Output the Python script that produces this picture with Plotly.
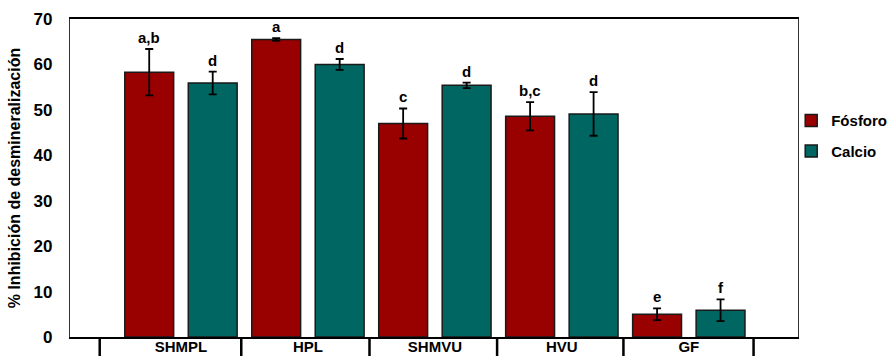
import plotly.graph_objects as go

categories = ["SHMPL", "HPL", "SHMVU", "HVU", "GF"]
fosforo = [58.3, 65.5, 47.0, 48.6, 5.0]
fosforo_err = [5.1, 0.3, 3.3, 3.1, 1.3]
calcio = [55.9, 60.0, 55.4, 49.1, 5.9]
calcio_err = [2.5, 1.2, 0.6, 4.8, 2.4]
fosforo_labels = ["a,b", "a", "c", "b,c", "e"]
calcio_labels = ["d", "d", "d", "d", "f"]
y_ticks = [0, 10, 20, 30, 40, 50, 60, 70]

FONT = "Liberation Sans, Arial, sans-serif"
RED = "#990000"
TEAL = "#006662"

fig = go.Figure()
fig.add_trace(go.Bar(
    name="Fósforo", x=categories, y=fosforo,
    marker=dict(color=RED, line=dict(color="#1a1a1a", width=1.5)),
    error_y=dict(type="data", array=fosforo_err, color="black", thickness=1.8, width=4),
    legendgroup="p",
))
fig.add_trace(go.Bar(
    name="Calcio", x=categories, y=calcio,
    marker=dict(color=TEAL, line=dict(color="#1a1a1a", width=1.5)),
    error_y=dict(type="data", array=calcio_err, color="black", thickness=1.8, width=4),
    legendgroup="c",
))

# significance letters
for i, c in enumerate(categories):
    for vals, errs, labs, off in [(fosforo, fosforo_err, fosforo_labels, -0.25),
                                   (calcio, calcio_err, calcio_labels, 0.25)]:
        fig.add_annotation(
            x=i + off, y=vals[i] + errs[i], text="<b>%s</b>" % labs[i],
            showarrow=False, yanchor="bottom", yshift=1,
            font=dict(family=FONT, size=15, color="black"), xref="x", yref="y",
        )

# category separators below the axis
for xs in [-0.64, 0.475, 1.485, 2.49, 3.485, 4.51]:
    fig.add_shape(type="line", xref="x", yref="paper", x0=xs, x1=xs, y0=0, y1=-0.07,
                  line=dict(color="black", width=2.5))

fig.update_layout(
    width=890, height=356,
    margin=dict(l=70, r=92, t=19, b=19, autoexpand=False),
    paper_bgcolor="white", plot_bgcolor="white",
    barmode="group", bargap=0.0, bargroupgap=0.23,
    font=dict(family=FONT, color="black"),
    showlegend=True,
    legend=dict(xref="container", yref="container", x=0.889, y=0.707,
                xanchor="left", yanchor="top", bgcolor="rgba(0,0,0,0)",
                font=dict(family=FONT, size=15, color="black", weight="bold"),
                tracegroupgap=8, itemwidth=30),
    xaxis=dict(
        range=[-0.874, 4.86], showline=True, linecolor="black", linewidth=1.5,
        mirror=True, ticks="", showgrid=False, automargin=False,
        tickfont=dict(family=FONT, size=15, color="black", weight="bold"),
        ticklabelstandoff=-5,
    ),
    yaxis=dict(
        range=[0, 70], tickvals=y_ticks, showline=True, linecolor="#333333", linewidth=1.2,
        mirror=True, ticks="", showgrid=False, zeroline=False, automargin=False,
        tickfont=dict(family=FONT, size=17, color="black", weight="bold"),
        ticklabelstandoff=13,
        title=dict(text="% Inhibición de desmineralización",
                   font=dict(family=FONT, size=16, color="black", weight="bold"), standoff=8),
    ),
)

fig.write_html("out.html", config={"displayModeBar": False},
               post_script="document.body.style.margin='0';")
